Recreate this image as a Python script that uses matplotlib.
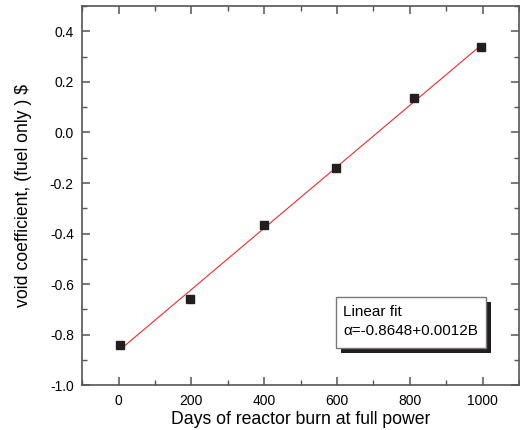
import matplotlib
matplotlib.use("Agg")
import matplotlib.pyplot as plt
from matplotlib.patches import Rectangle
import numpy as np

# data
days = [5, 195, 400, 598, 813, 995]
void_coef = [-0.84, -0.66, -0.367, -0.141, 0.135, 0.337]

xticks = [0, 200, 400, 600, 800, 1000]
yticks = [-1.0, -0.8, -0.6, -0.4, -0.2, 0.0, 0.2, 0.4]

plt.rcParams['font.family'] = ['Liberation Sans', 'DejaVu Sans']

def main():
    fig = plt.figure(figsize=(5.2, 4.3), dpi=100)
    ax = fig.add_axes([0.158, 0.104, 0.840, 0.882])

    # linear fit line over the data range
    slope, icpt = np.polyfit(days, void_coef, 1)
    xf = np.array([min(days), max(days)])
    ax.plot(xf, icpt + slope * xf, color='#ee2a2a', lw=0.8, zorder=2)
    ax.plot(days, void_coef, ls='none', marker='s', ms=6, color='#231f20', zorder=3)

    ax.set_xlim(-100, 1100)
    ax.set_ylim(-1.0, 0.5)
    ax.set_xticks(xticks)
    ax.set_yticks(yticks)
    ax.set_xticks(np.arange(-100, 1101, 100), minor=True)
    ax.set_yticks(np.arange(-1.0, 0.51, 0.1), minor=True)
    ax.set_yticklabels(['%.1f' % v for v in yticks])

    ax.tick_params(which='both', direction='in', top=True, right=True,
                   color='#555555', labelsize=10, pad=6)
    ax.tick_params(which='major', length=6, width=1.1)
    ax.tick_params(which='minor', length=3.5, width=1.0)
    for s in ax.spines.values():
        s.set_color('#555555')
        s.set_linewidth(1.2)

    ax.set_xlabel('Days of reactor burn at full power', fontsize=12.7, labelpad=2.5)
    ax.set_ylabel('void coefficient, (fuel only ) \\$', fontsize=12.7, labelpad=13)

    # fit annotation box with a drop shadow
    ax.add_patch(Rectangle((0.592, 0.086), 0.343, 0.134, transform=ax.transAxes,
                           fc='#231f20', ec='none', zorder=4))
    ax.add_patch(Rectangle((0.581, 0.099), 0.343, 0.134, transform=ax.transAxes,
                           fc='white', ec='#777777', lw=1.0, zorder=5))
    ax.text(0.597, 0.194, 'Linear fit', transform=ax.transAxes,
            fontsize=11, va='center', ha='left', zorder=6)
    ax.text(0.597, 0.142, '\u03b1=-0.8648+0.0012B', transform=ax.transAxes,
            fontsize=11, va='center', ha='left', zorder=6)

    fig.savefig('out.png', dpi=100)


if __name__ == "__main__":
    main()
